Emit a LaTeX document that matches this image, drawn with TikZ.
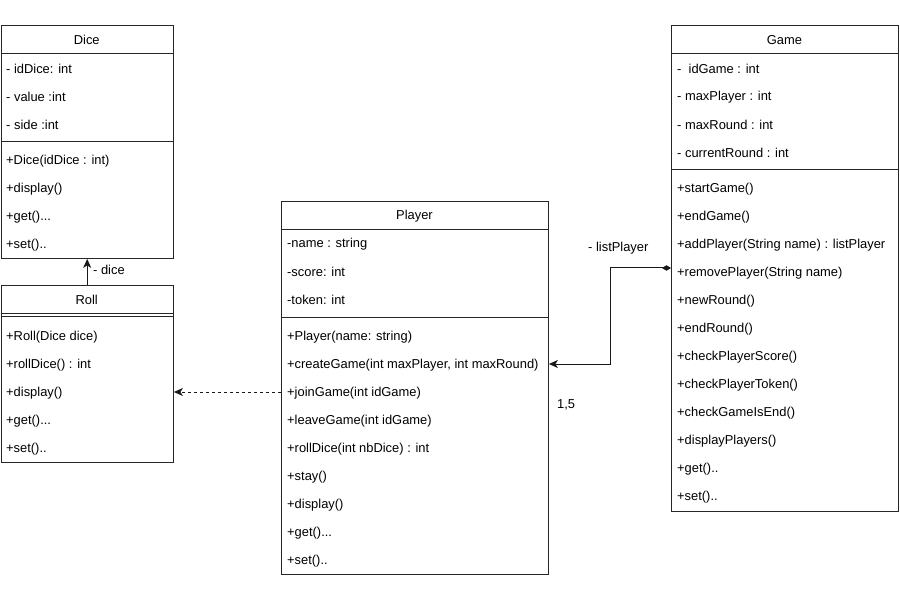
\documentclass[tikz,border=0pt]{standalone}
\usepackage{fontspec}
\setmainfont{Liberation Sans}
\usetikzlibrary{arrows.meta,calc}
\begin{document}
\begin{tikzpicture}[x=1pt,y=-1pt,
  box/.style={draw=black!85, line width=0.9pt, anchor=north west, inner sep=0pt},
  sep/.style={draw=black!85, line width=0.9pt},
  item/.style={anchor=west, inner sep=0pt, font=\fontsize{12.9}{15}\selectfont},
  title/.style={anchor=center, inner sep=0pt, font=\fontsize{12.9}{15}\selectfont},
  conn/.style={draw=black!90, line width=1pt}]
\useasboundingbox (0,0) rectangle (900,604);

% ---------- Dice ----------
\node[box, minimum width=172.5pt, minimum height=233pt] (dice) at (0.5,25) {};
\draw[sep] (0.5,53) -- (173,53);
\draw[sep] (0.5,141) -- (173,141);
\node[title] (diceT) at (86.75,40) {Dice};
\node[item] (d1) at (6,69) {- idDice: int};
\node[item] (d2) at (6,97) {- value :int};
\node[item] (d3) at (6,125) {- side :int};
\node[item] (d4) at (6,161) {+Dice(idDice : int)};
\node[item] (d5) at (6,189) {+display()};
\node[item] (d6) at (6,217) {+get()...};
\node[item] (d7) at (6,245) {+set()..};

% ---------- Roll ----------
\node[box, minimum width=172.5pt, minimum height=177pt] (roll) at (0.5,285) {};
\draw[sep] (0.5,313) -- (173,313);
\draw[sep] (0.5,316.5) -- (173,316.5);
\node[title] (rollT) at (86.75,300) {Roll};
\node[item] (r1) at (6,337) {+Roll(Dice dice)};
\node[item] (r2) at (6,365) {+rollDice() : int};
\node[item] (r3) at (6,393) {+display()};
\node[item] (r4) at (6,421) {+get()...};
\node[item] (r5) at (6,449) {+set()..};

% ---------- Player ----------
\node[box, minimum width=267pt, minimum height=373pt] (player) at (281,201) {};
\draw[sep] (281,229) -- (548,229);
\draw[sep] (281,317) -- (548,317);
\node[title] (playerT) at (414.5,216) {Player};
\node[item] (p1) at (287,244) {-name : string};
\node[item] (p2) at (287,272) {-score: int};
\node[item] (p3) at (287,300) {-token: int};
\node[item] (p4) at (287,337) {+Player(name: string)};
\node[item] (p5) at (287,365) {+createGame(int maxPlayer, int maxRound)};
\node[item] (p6) at (287,393) {+joinGame(int idGame)};
\node[item] (p7) at (287,421) {+leaveGame(int idGame)};
\node[item] (p8) at (287,449) {+rollDice(int nbDice) : int};
\node[item] (p9) at (287,477) {+stay()};
\node[item] (p10) at (287,505) {+display()};
\node[item] (p11) at (287,533) {+get()...};
\node[item] (p12) at (287,561) {+set()..};

% ---------- Game ----------
\node[box, minimum width=227pt, minimum height=486pt] (game) at (671,25) {};
\draw[sep] (671,53) -- (898,53);
\draw[sep] (671,169) -- (898,169);
\node[title] (gameT) at (784.5,40) {Game};
\node[item] (g1) at (677,69) {-~~idGame : int};
\node[item] (g2) at (677,97) {- maxPlayer : int};
\node[item] (g3) at (677,125) {- maxRound : int};
\node[item] (g4) at (677,153) {- currentRound : int};
\node[item] (g5) at (677,189) {+startGame()};
\node[item] (g6) at (677,217) {+endGame()};
\node[item] (g7) at (677,245) {+addPlayer(String name) : listPlayer};
\node[item] (g8) at (677,273) {+removePlayer(String name)};
\node[item] (g9) at (677,301) {+newRound()};
\node[item] (g10) at (677,329) {+endRound()};
\node[item] (g11) at (677,357) {+checkPlayerScore()};
\node[item] (g12) at (677,385) {+checkPlayerToken()};
\node[item] (g13) at (677,413) {+checkGameIsEnd()};
\node[item] (g14) at (677,441) {+displayPlayers()};
\node[item] (g15) at (677,469) {+get()..};
\node[item] (g16) at (677,497) {+set()..};

% ---------- Connectors ----------
% Roll -> Dice
\draw[conn, -{Stealth[length=9pt,width=8pt,inset=2.5pt]}] (roll.north) -- (dice.south);
\node[item] (diceLbl) at (93,270) {- dice};

% Player ..> Roll (dashed dependency)
\coordinate (joinrow) at (281,392);
\draw[conn, dash pattern=on 3pt off 3pt, -{Stealth[length=9pt,width=8pt,inset=2.5pt]}]
  (joinrow) -- (roll.east |- joinrow);

% Game <>-> Player (composition)
\coordinate (lprow) at (671,268);
\coordinate (cgrow) at (548,364);
\draw[conn, {Diamond[length=9pt,width=5.5pt]}-{Stealth[length=9pt,width=8pt,inset=2.5pt]}]
  (game.west |- lprow) -- (610,268) |- (player.east |- cgrow);
\node[item] (lpLbl) at (588,248) {- listPlayer};
\node[item] (multLbl) at (557,405) {1,5};
\end{tikzpicture}
\end{document}
